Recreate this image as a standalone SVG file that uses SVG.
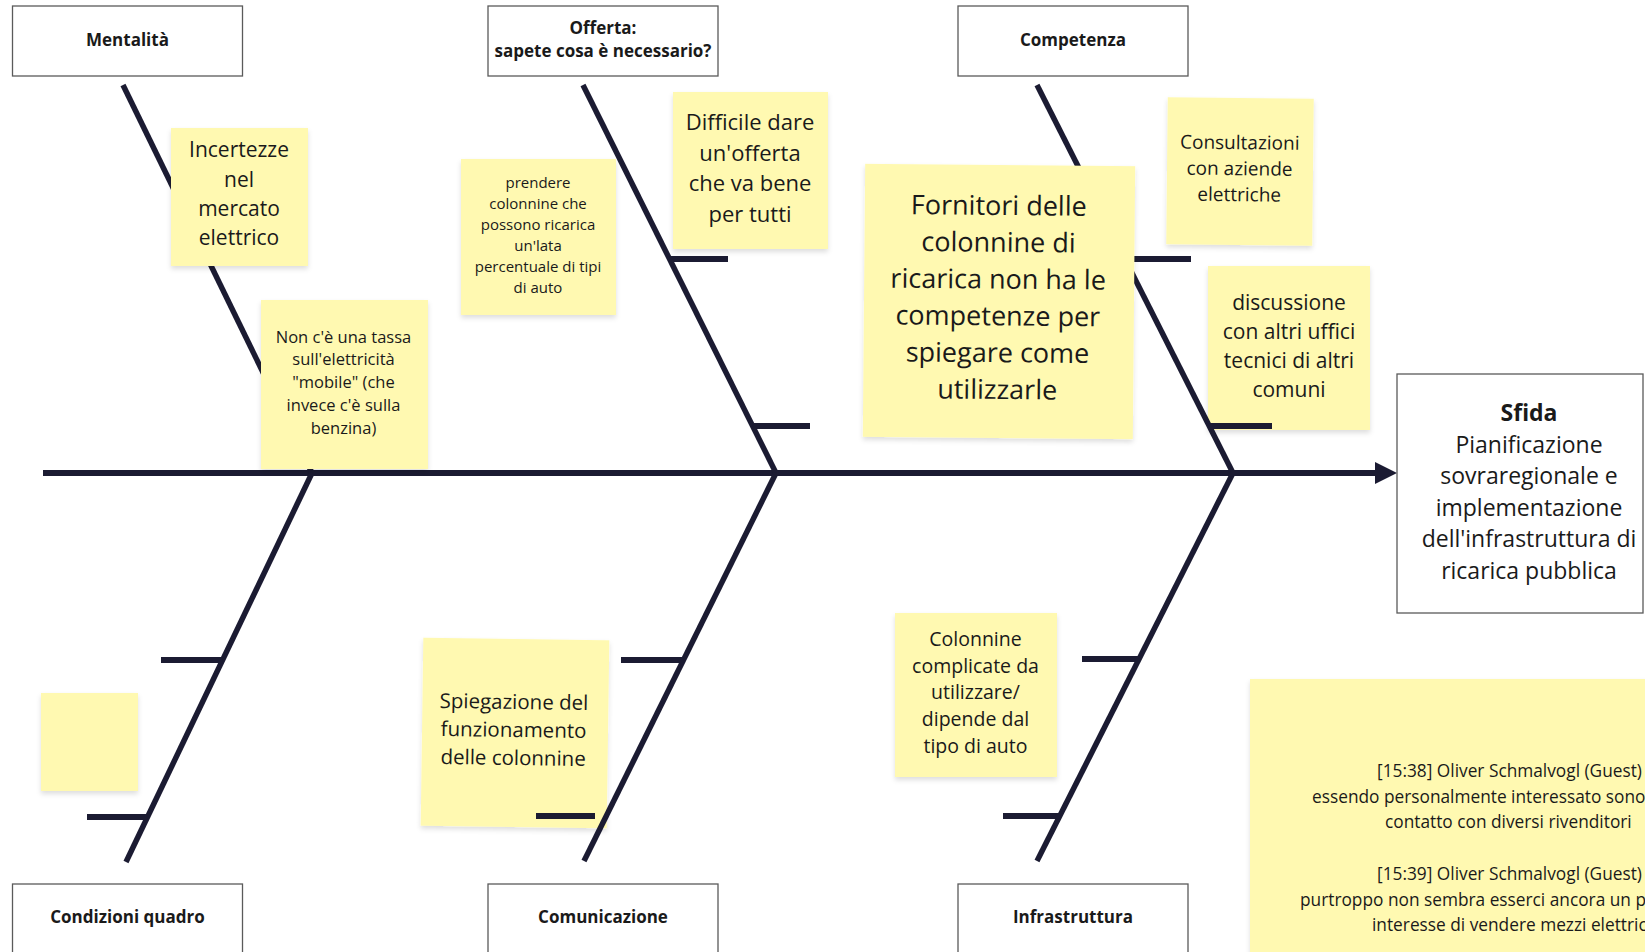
<svg xmlns="http://www.w3.org/2000/svg" width="1645" height="952" viewBox="0 0 1645 952">
<defs>
<filter id="sh" x="-10%" y="-10%" width="120%" height="125%">
<feDropShadow dx="0" dy="3" stdDeviation="2.5" flood-color="#000" flood-opacity="0.13"/>
</filter>
<style>
.box{fill:#fff;stroke:#5a5a5a;stroke-width:1.3}
.note{fill:#fff9b1;filter:url(#sh)}
.ln{stroke:#1b1b32;stroke-width:6;fill:none;stroke-linecap:butt}
.br{stroke-width:5.5}
text{font-family:"Open Sans","Noto Sans","Liberation Sans",sans-serif;fill:#1a1a1a;text-anchor:middle}
.lbl{font-weight:700;font-size:17px}
.chat{text-anchor:start;font-size:17.3px}
</style>
</defs>
<rect width="1645" height="952" fill="#fff"/>

<g id="note-discussione">
<rect class="note" x="1208" y="266" width="162" height="164"/>
<text font-size="21"><tspan x="1289" y="309.7">discussione</tspan><tspan x="1289" dy="29">con altri uffici</tspan><tspan x="1289" dy="29">tecnici di altri</tspan><tspan x="1289" dy="29">comuni</tspan></text>
</g>
<g id="note-spiegazione" transform="rotate(0.8 515 733)">
<rect class="note" x="422" y="639" width="186" height="188"/>
<text font-size="20.5"><tspan x="513.5" y="709">Spiegazione del</tspan><tspan x="513.5" dy="28">funzionamento</tspan><tspan x="513.5" dy="28">delle colonnine</tspan></text>
</g>

<g id="connectors">
<line class="ln" x1="43" y1="473" x2="1377" y2="473"/>
<polygon points="1375,462 1397,473 1375,484" fill="#1b1b32"/>
<line class="ln br" x1="123" y1="85" x2="312" y2="473"/>
<line class="ln br" x1="312" y1="473" x2="126" y2="862"/>
<line class="ln br" x1="583" y1="85" x2="776" y2="473"/>
<line class="ln br" x1="776" y1="473" x2="584" y2="861"/>
<line class="ln br" x1="1037" y1="85" x2="1233" y2="473"/>
<line class="ln br" x1="1233" y1="473" x2="1037" y2="861"/>
<line class="ln" x1="669.5" y1="259" x2="728" y2="259"/>
<line class="ln" x1="752.6" y1="426" x2="810" y2="426"/>
<line class="ln" x1="1125" y1="259" x2="1191" y2="259"/>
<line class="ln" x1="1209" y1="426" x2="1272" y2="426"/>
<line class="ln" x1="161" y1="660" x2="222.6" y2="660"/>
<line class="ln" x1="87" y1="817" x2="147.6" y2="817"/>
<line class="ln" x1="621" y1="660" x2="683.5" y2="660"/>
<line class="ln" x1="536" y1="816" x2="595" y2="816"/>
<line class="ln" x1="1082" y1="659" x2="1139" y2="659"/>
<line class="ln" x1="1003" y1="816" x2="1060" y2="816"/>
</g>

<g id="box-mentalita">
<rect class="box" x="12.5" y="6" width="230" height="70"/>
<text class="lbl" x="127.5" y="46">Mentalità</text>
</g>
<g id="box-offerta">
<rect class="box" x="488" y="6" width="230" height="70"/>
<text class="lbl"><tspan x="603" y="34.3">Offerta:</tspan><tspan x="603" y="57.4">sapete cosa è necessario?</tspan></text>
</g>
<g id="box-competenza">
<rect class="box" x="958" y="6" width="230" height="70"/>
<text class="lbl" x="1073" y="46">Competenza</text>
</g>
<g id="box-condizioni">
<rect class="box" x="12.5" y="884" width="230" height="70"/>
<text class="lbl" x="127.5" y="923">Condizioni quadro</text>
</g>
<g id="box-comunicazione">
<rect class="box" x="488" y="884" width="230" height="70"/>
<text class="lbl" x="603" y="923">Comunicazione</text>
</g>
<g id="box-infrastruttura">
<rect class="box" x="958" y="884" width="230" height="70"/>
<text class="lbl" x="1073" y="923">Infrastruttura</text>
</g>
<g id="box-sfida">
<rect class="box" x="1397" y="374" width="246" height="239"/>
<text font-size="23"><tspan x="1529" y="421" font-weight="700">Sfida</tspan><tspan x="1529" dy="31.6">Pianificazione</tspan><tspan x="1529" dy="31.6">sovraregionale e</tspan><tspan x="1529" dy="31.6">implementazione</tspan><tspan x="1529" dy="31.6">dell'infrastruttura di</tspan><tspan x="1529" dy="31.6">ricarica pubblica</tspan></text>
</g>

<g id="note-incertezze">
<rect class="note" x="171" y="128" width="137" height="138"/>
<text font-size="21"><tspan x="239" y="157.4">Incertezze</tspan><tspan x="239" dy="29.3">nel</tspan><tspan x="239" dy="29.3">mercato</tspan><tspan x="239" dy="29.3">elettrico</tspan></text>
</g>
<g id="note-tassa">
<rect class="note" x="261" y="300" width="167" height="169"/>
<text font-size="16.5"><tspan x="343.5" y="342.5">Non c'è una tassa</tspan><tspan x="343.5" dy="22.75">sull'elettricità</tspan><tspan x="343.5" dy="22.75">"mobile" (che</tspan><tspan x="343.5" dy="22.75">invece c'è sulla</tspan><tspan x="343.5" dy="22.75">benzina)</tspan></text>
</g>
<g id="note-prendere">
<rect class="note" x="461" y="159" width="155" height="156"/>
<text font-size="15"><tspan x="538" y="187.6">prendere</tspan><tspan x="538" dy="21.1">colonnine che</tspan><tspan x="538" dy="21.1">possono ricarica</tspan><tspan x="538" dy="21.1">un'lata</tspan><tspan x="538" dy="21.1">percentuale di tipi</tspan><tspan x="538" dy="21.1">di auto</tspan></text>
</g>
<g id="note-difficile">
<rect class="note" x="673" y="92" width="155" height="157"/>
<text font-size="22"><tspan x="750" y="130.4">Difficile dare</tspan><tspan x="750" dy="30.5">un'offerta</tspan><tspan x="750" dy="30.5">che va bene</tspan><tspan x="750" dy="30.5">per tutti</tspan></text>
</g>
<g id="note-fornitori" transform="rotate(0.5 999 301)">
<rect class="note" x="864" y="165" width="270" height="273"/>
<text font-size="27"><tspan x="998" y="215">Fornitori delle</tspan><tspan x="998" dy="36.8">colonnine di</tspan><tspan x="998" dy="36.8">ricarica non ha le</tspan><tspan x="998" dy="36.8">competenze per</tspan><tspan x="998" dy="36.8">spiegare come</tspan><tspan x="998" dy="36.8">utilizzarle</tspan></text>
</g>
<g id="note-consultazioni" transform="rotate(0.6 1240 171)">
<rect class="note" x="1167" y="98" width="146" height="147"/>
<text font-size="19"><tspan x="1239.5" y="149.2">Consultazioni</tspan><tspan x="1239.5" dy="26">con aziende</tspan><tspan x="1239.5" dy="26">elettriche</tspan></text>
</g>
<g id="note-vuota">
<rect class="note" x="41" y="693" width="97" height="98"/>
</g>
<g id="note-colonnine">
<rect class="note" x="895" y="613" width="162" height="164"/>
<text font-size="19.5"><tspan x="975.5" y="645.8">Colonnine</tspan><tspan x="975.5" dy="26.7">complicate da</tspan><tspan x="975.5" dy="26.7">utilizzare/</tspan><tspan x="975.5" dy="26.7">dipende dal</tspan><tspan x="975.5" dy="26.7">tipo di auto</tspan></text>
</g>
<g id="note-chat">
<rect class="note" x="1250" y="679" width="420" height="300"/>
<text class="chat" x="1377" y="777">[15:38] Oliver Schmalvogl (Guest)</text>
<text class="chat" x="1312" y="802.7">essendo personalmente interessato sono</text>
<text class="chat" x="1385" y="828.4">contatto con diversi rivenditori</text>
<text class="chat" x="1377" y="880">[15:39] Oliver Schmalvogl (Guest)</text>
<text class="chat" x="1300" y="905.7">purtroppo non sembra esserci ancora un p</text>
<text class="chat" x="1372" y="931.4">interesse di vendere mezzi elettric</text>
</g>
</svg>
